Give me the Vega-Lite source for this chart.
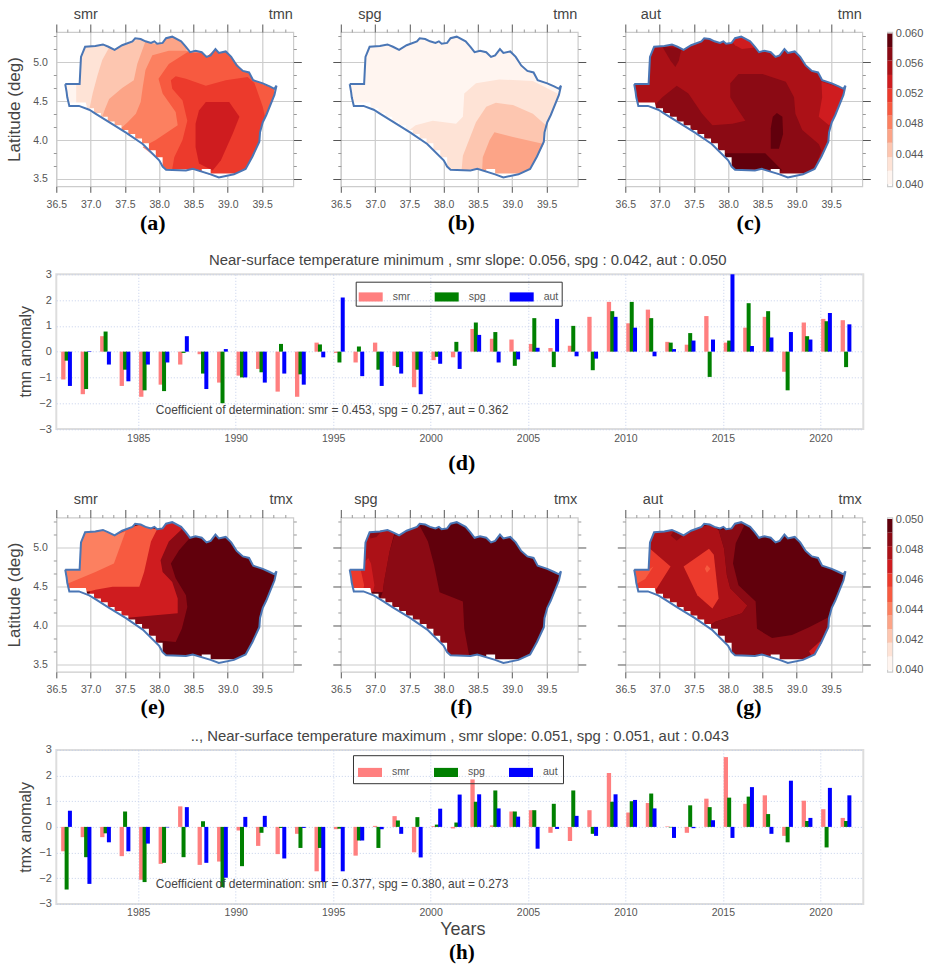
{"$schema":"https://vega.github.io/schema/vega-lite/v6.json","padding":{"left":4.3,"top":5,"right":0,"bottom":0},"background":"white",
"config":{"view":{"stroke":"#ccc","strokeWidth":1.2},"font":"Liberation Sans","range":{"ordinal":["#fff5f0","#fee3d6","#fdc6b0","#fca487","#fc8060","#f75a40","#ec3a2c","#cf1c1f","#ac1117","#8b0a14","#61000c"]},"axis":{"labelFlush":false,"labelFont":"Liberation Sans","titleFont":"Liberation Sans","labelColor":"#555","titleColor":"#444","titleFontWeight":"normal","gridColor":"#ccc","gridWidth":1.2,"domain":false,"tickColor":"#555","labelFontSize":10.5}},
"datasets":{
"dummy":[{"x":38,"y":4.5}],
"bnd":[{"x":36.63,"y":4.72},{"x":36.84,"y":4.72},{"x":36.85,"y":4.9},{"x":36.86,"y":5.07},{"x":36.92,"y":5.2},{"x":37.07,"y":5.21},{"x":37.18,"y":5.23},{"x":37.26,"y":5.2},{"x":37.35,"y":5.16},{"x":37.46,"y":5.22},{"x":37.61,"y":5.27},{"x":37.65,"y":5.31},{"x":37.73,"y":5.3},{"x":37.8,"y":5.27},{"x":37.88,"y":5.25},{"x":37.93,"y":5.27},{"x":37.97,"y":5.24},{"x":38.05,"y":5.25},{"x":38.1,"y":5.31},{"x":38.19,"y":5.33},{"x":38.32,"y":5.27},{"x":38.39,"y":5.2},{"x":38.45,"y":5.13},{"x":38.53,"y":5.15},{"x":38.62,"y":5.13},{"x":38.69,"y":5.07},{"x":38.75,"y":5.09},{"x":38.82,"y":5.17},{"x":38.87,"y":5.12},{"x":38.97,"y":5.14},{"x":39.05,"y":5.07},{"x":39.13,"y":4.96},{"x":39.22,"y":4.89},{"x":39.31,"y":4.87},{"x":39.37,"y":4.77},{"x":39.51,"y":4.73},{"x":39.61,"y":4.69},{"x":39.68,"y":4.66},{"x":39.71,"y":4.7},{"x":39.68,"y":4.58},{"x":39.56,"y":4.32},{"x":39.51,"y":4.23},{"x":39.47,"y":4.1},{"x":39.46,"y":3.98},{"x":39.36,"y":3.79},{"x":39.26,"y":3.63},{"x":39.09,"y":3.56},{"x":38.87,"y":3.52},{"x":38.75,"y":3.56},{"x":38.49,"y":3.63},{"x":38.39,"y":3.61},{"x":38.1,"y":3.62},{"x":38.05,"y":3.66},{"x":38,"y":3.74},{"x":37.76,"y":3.95},{"x":37.51,"y":4.1},{"x":37.27,"y":4.23},{"x":37.07,"y":4.34},{"x":36.98,"y":4.39},{"x":36.83,"y":4.44},{"x":36.69,"y":4.44},{"x":36.66,"y":4.55},{"x":36.65,"y":4.62},{"x":36.63,"y":4.72}],
"mask":[{"r":1,"x":36.69,"y":4.485},{"r":1,"x":36.93,"y":4.485},{"r":1,"x":36.95,"y":4.41},{"r":1,"x":37.05,"y":4.41},{"r":1,"x":37.05,"y":4.35},{"r":1,"x":37.15,"y":4.35},{"r":1,"x":37.15,"y":4.3},{"r":1,"x":37.25,"y":4.3},{"r":1,"x":37.25,"y":4.24},{"r":1,"x":37.35,"y":4.24},{"r":1,"x":37.35,"y":4.19},{"r":1,"x":37.45,"y":4.19},{"r":1,"x":37.45,"y":4.13},{"r":1,"x":37.55,"y":4.13},{"r":1,"x":37.55,"y":4.08},{"r":1,"x":37.65,"y":4.08},{"r":1,"x":37.65,"y":4.02},{"r":1,"x":37.75,"y":4.02},{"r":1,"x":37.75,"y":3.96},{"r":1,"x":37.85,"y":3.96},{"r":1,"x":37.85,"y":3.87},{"r":1,"x":37.95,"y":3.87},{"r":1,"x":37.95,"y":3.78},{"r":1,"x":38.05,"y":3.78},{"r":1,"x":38.05,"y":3.66},{"r":1,"x":38.08,"y":3.63},{"r":1,"x":38.05,"y":3.63},{"r":1,"x":38,"y":3.72},{"r":1,"x":37.76,"y":3.93},{"r":1,"x":37.51,"y":4.08},{"r":1,"x":37.27,"y":4.21},{"r":1,"x":36.98,"y":4.37},{"r":1,"x":36.83,"y":4.43},{"r":1,"x":36.69,"y":4.43},{"r":2,"x":38.62,"y":3.63},{"r":2,"x":38.75,"y":3.63},{"r":2,"x":38.75,"y":3.57},{"r":2,"x":39.09,"y":3.57},{"r":2,"x":39.09,"y":3.55},{"r":2,"x":38.87,"y":3.51},{"r":2,"x":38.75,"y":3.55},{"r":2,"x":38.62,"y":3.59}],
"ca":[{"r":1,"l":0,"x":36.63,"y":4.72},{"r":1,"l":0,"x":36.79,"y":4.72},{"r":1,"l":0,"x":36.79,"y":4.47},{"r":1,"l":0,"x":36.83,"y":4.44},{"r":1,"l":0,"x":36.69,"y":4.44},{"r":1,"l":0,"x":36.66,"y":4.55},{"r":1,"l":0,"x":36.65,"y":4.62},
{"r":2,"l":2,"x":37.27,"y":5.19},{"r":2,"l":2,"x":37.17,"y":5.03},{"r":2,"l":2,"x":37.1,"y":4.83},{"r":2,"l":2,"x":37.03,"y":4.6},{"r":2,"l":2,"x":36.98,"y":4.39},{"r":2,"l":2,"x":37.07,"y":4.34},{"r":2,"l":2,"x":37.51,"y":4.1},{"r":2,"l":2,"x":37.76,"y":3.95},{"r":2,"l":2,"x":37.88,"y":5.25},{"r":2,"l":2,"x":37.73,"y":5.3},{"r":2,"l":2,"x":37.61,"y":5.27},{"r":2,"l":2,"x":37.35,"y":5.16},
{"r":3,"l":3,"x":37.8,"y":5.27},{"r":3,"l":3,"x":37.68,"y":4.98},{"r":3,"l":3,"x":37.63,"y":4.77},{"r":3,"l":3,"x":37.46,"y":4.67},{"r":3,"l":3,"x":37.27,"y":4.53},{"r":3,"l":3,"x":37.21,"y":4.4},{"r":3,"l":3,"x":37.17,"y":4.3},{"r":3,"l":3,"x":37.51,"y":4.1},{"r":3,"l":3,"x":37.76,"y":3.95},{"r":3,"l":3,"x":38,"y":3.74},{"r":3,"l":3,"x":38.4,"y":3.9},{"r":3,"l":3,"x":38.4,"y":5.19},{"r":3,"l":3,"x":38.32,"y":5.27},{"r":3,"l":3,"x":38.19,"y":5.33},{"r":3,"l":3,"x":38.1,"y":5.31},{"r":3,"l":3,"x":38.05,"y":5.25},{"r":3,"l":3,"x":37.97,"y":5.24},{"r":3,"l":3,"x":37.88,"y":5.25},
{"r":4,"l":4,"x":38.41,"y":5.15},{"r":4,"l":4,"x":38.14,"y":5.15},{"r":4,"l":4,"x":37.9,"y":5.09},{"r":4,"l":4,"x":37.8,"y":4.9},{"r":4,"l":4,"x":37.76,"y":4.68},{"r":4,"l":4,"x":37.73,"y":4.49},{"r":4,"l":4,"x":37.66,"y":4.34},{"r":4,"l":4,"x":37.54,"y":4.23},{"r":4,"l":4,"x":37.44,"y":4.15},{"r":4,"l":4,"x":37.76,"y":3.95},{"r":4,"l":4,"x":37.85,"y":3.87},{"r":4,"l":4,"x":38.4,"y":3.9},{"r":4,"l":4,"x":38.4,"y":5.0},{"r":4,"l":4,"x":38.45,"y":5.13},
{"r":5,"l":5,"x":38.41,"y":5.13},{"r":5,"l":5,"x":38.14,"y":4.98},{"r":5,"l":5,"x":37.99,"y":4.79},{"r":5,"l":5,"x":38.05,"y":4.6},{"r":5,"l":5,"x":38.24,"y":4.36},{"r":5,"l":5,"x":38.27,"y":4.19},{"r":5,"l":5,"x":37.95,"y":4.0},{"r":5,"l":5,"x":37.76,"y":3.91},{"r":5,"l":5,"x":38,"y":3.74},{"r":5,"l":5,"x":38.1,"y":3.62},{"r":5,"l":5,"x":38.49,"y":3.63},{"r":5,"l":5,"x":38.87,"y":3.52},{"r":5,"l":5,"x":39.09,"y":3.56},{"r":5,"l":5,"x":39.26,"y":3.63},{"r":5,"l":5,"x":39.46,"y":3.98},{"r":5,"l":5,"x":39.47,"y":4.1},{"r":5,"l":5,"x":39.51,"y":4.23},{"r":5,"l":5,"x":39.68,"y":4.58},{"r":5,"l":5,"x":39.68,"y":4.66},{"r":5,"l":5,"x":39.37,"y":4.77},{"r":5,"l":5,"x":39.31,"y":4.87},{"r":5,"l":5,"x":39.22,"y":4.89},{"r":5,"l":5,"x":39.05,"y":5.07},{"r":5,"l":5,"x":38.97,"y":5.14},{"r":5,"l":5,"x":38.87,"y":5.12},{"r":5,"l":5,"x":38.82,"y":5.17},{"r":5,"l":5,"x":38.69,"y":5.07},{"r":5,"l":5,"x":38.62,"y":5.13},
{"r":6,"l":6,"x":38.17,"y":4.77},{"r":6,"l":6,"x":38.24,"y":4.82},{"r":6,"l":6,"x":38.39,"y":4.79},{"r":6,"l":6,"x":38.68,"y":4.7},{"r":6,"l":6,"x":38.97,"y":4.77},{"r":6,"l":6,"x":39.29,"y":4.81},{"r":6,"l":6,"x":39.39,"y":4.73},{"r":6,"l":6,"x":39.51,"y":4.43},{"r":6,"l":6,"x":39.54,"y":4.31},{"r":6,"l":6,"x":39.51,"y":4.23},{"r":6,"l":6,"x":39.47,"y":4.1},{"r":6,"l":6,"x":39.46,"y":3.98},{"r":6,"l":6,"x":39.26,"y":3.63},{"r":6,"l":6,"x":39.09,"y":3.56},{"r":6,"l":6,"x":38.87,"y":3.52},{"r":6,"l":6,"x":38.49,"y":3.63},{"r":6,"l":6,"x":38.19,"y":3.63},{"r":6,"l":6,"x":38.22,"y":3.78},{"r":6,"l":6,"x":38.34,"y":4.0},{"r":6,"l":6,"x":38.41,"y":4.25},{"r":6,"l":6,"x":38.34,"y":4.51},{"r":6,"l":6,"x":38.19,"y":4.66},
{"r":7,"l":7,"x":38.68,"y":4.49},{"r":7,"l":7,"x":39.02,"y":4.49},{"r":7,"l":7,"x":39.17,"y":4.3},{"r":7,"l":7,"x":39.07,"y":4.08},{"r":7,"l":7,"x":38.9,"y":3.74},{"r":7,"l":7,"x":38.78,"y":3.61},{"r":7,"l":7,"x":38.58,"y":3.7},{"r":7,"l":7,"x":38.53,"y":3.91},{"r":7,"l":7,"x":38.53,"y":4.21},{"r":7,"l":7,"x":38.58,"y":4.38}],
"cb":[{"r":1,"l":1,"x":39.66,"y":4.6},{"r":1,"l":1,"x":39.3,"y":4.76},{"r":1,"l":1,"x":38.81,"y":4.78},{"r":1,"l":1,"x":38.47,"y":4.73},{"r":1,"l":1,"x":38.3,"y":4.6},{"r":1,"l":1,"x":38.28,"y":4.3},{"r":1,"l":1,"x":38.18,"y":4.21},{"r":1,"l":1,"x":37.84,"y":4.25},{"r":1,"l":1,"x":37.59,"y":4.19},{"r":1,"l":1,"x":37.5,"y":4.13},{"r":1,"l":1,"x":37.76,"y":3.95},{"r":1,"l":1,"x":38,"y":3.74},{"r":1,"l":1,"x":38.1,"y":3.62},{"r":1,"l":1,"x":38.49,"y":3.63},{"r":1,"l":1,"x":38.87,"y":3.52},{"r":1,"l":1,"x":39.09,"y":3.56},{"r":1,"l":1,"x":39.26,"y":3.63},{"r":1,"l":1,"x":39.46,"y":3.98},{"r":1,"l":1,"x":39.47,"y":4.1},{"r":1,"l":1,"x":39.51,"y":4.23},{"r":1,"l":1,"x":39.68,"y":4.58},
{"r":2,"l":2,"x":39.49,"y":4.19},{"r":2,"l":2,"x":39.3,"y":4.34},{"r":2,"l":2,"x":39.01,"y":4.45},{"r":2,"l":2,"x":38.76,"y":4.48},{"r":2,"l":2,"x":38.62,"y":4.43},{"r":2,"l":2,"x":38.47,"y":4.23},{"r":2,"l":2,"x":38.28,"y":3.8},{"r":2,"l":2,"x":38.26,"y":3.61},{"r":2,"l":2,"x":38.49,"y":3.63},{"r":2,"l":2,"x":38.87,"y":3.52},{"r":2,"l":2,"x":39.09,"y":3.56},{"r":2,"l":2,"x":39.26,"y":3.63},{"r":2,"l":2,"x":39.46,"y":3.98},{"r":2,"l":2,"x":39.47,"y":4.1},
{"r":3,"l":3,"x":38.74,"y":4.1},{"r":3,"l":3,"x":39.01,"y":4.04},{"r":3,"l":3,"x":39.46,"y":3.95},{"r":3,"l":3,"x":39.26,"y":3.63},{"r":3,"l":3,"x":39.09,"y":3.56},{"r":3,"l":3,"x":38.87,"y":3.52},{"r":3,"l":3,"x":38.56,"y":3.61},{"r":3,"l":3,"x":38.57,"y":3.78},{"r":3,"l":3,"x":38.67,"y":4.0}],
"cc":[{"r":1,"l":9,"x":37.04,"y":5.2},{"r":1,"l":9,"x":37.32,"y":5.18},{"r":1,"l":9,"x":37.28,"y":5.02},{"r":1,"l":9,"x":37.23,"y":4.94},{"r":1,"l":9,"x":37.16,"y":5.02},
{"r":2,"l":9,"x":36.91,"y":4.43},{"r":2,"l":9,"x":37.04,"y":4.55},{"r":2,"l":9,"x":37.25,"y":4.7},{"r":2,"l":9,"x":37.42,"y":4.6},{"r":2,"l":9,"x":37.62,"y":4.34},{"r":2,"l":9,"x":37.77,"y":4.19},{"r":2,"l":9,"x":38.06,"y":4.21},{"r":2,"l":9,"x":38.25,"y":4.25},{"r":2,"l":9,"x":38.15,"y":4.38},{"r":2,"l":9,"x":38.03,"y":4.55},{"r":2,"l":9,"x":38.03,"y":4.73},{"r":2,"l":9,"x":38.15,"y":4.85},{"r":2,"l":9,"x":38.5,"y":4.85},{"r":2,"l":9,"x":38.84,"y":4.75},{"r":2,"l":9,"x":38.96,"y":4.55},{"r":2,"l":9,"x":38.98,"y":4.34},{"r":2,"l":9,"x":39.08,"y":4.13},{"r":2,"l":9,"x":39.32,"y":3.95},{"r":2,"l":9,"x":39.36,"y":3.87},{"r":2,"l":9,"x":39.26,"y":3.63},{"r":2,"l":9,"x":39.09,"y":3.56},{"r":2,"l":9,"x":38.87,"y":3.52},{"r":2,"l":9,"x":38.49,"y":3.63},{"r":2,"l":9,"x":38.1,"y":3.62},{"r":2,"l":9,"x":38,"y":3.74},{"r":2,"l":9,"x":37.76,"y":3.95},{"r":2,"l":9,"x":37.51,"y":4.1},{"r":2,"l":9,"x":37.07,"y":4.34},
{"r":3,"l":7,"x":39.36,"y":4.75},{"r":3,"l":7,"x":39.37,"y":4.55},{"r":3,"l":7,"x":39.32,"y":4.3},{"r":3,"l":7,"x":39.47,"y":4.19},{"r":3,"l":7,"x":39.51,"y":4.23},{"r":3,"l":7,"x":39.68,"y":4.58},{"r":3,"l":7,"x":39.68,"y":4.66},
{"r":4,"l":7,"x":38.06,"y":5.26},{"r":4,"l":7,"x":38.1,"y":5.31},{"r":4,"l":7,"x":38.19,"y":5.33},{"r":4,"l":7,"x":38.32,"y":5.27},{"r":4,"l":7,"x":38.39,"y":5.19},{"r":4,"l":7,"x":38.2,"y":5.17},{"r":4,"l":7,"x":38.1,"y":5.22},
{"r":5,"l":10,"x":38.71,"y":4.35},{"r":5,"l":10,"x":38.79,"y":4.3},{"r":5,"l":10,"x":38.8,"y":4.08},{"r":5,"l":10,"x":38.74,"y":3.89},{"r":5,"l":10,"x":38.62,"y":3.89},{"r":5,"l":10,"x":38.62,"y":4.15},{"r":5,"l":10,"x":38.65,"y":4.3},
{"r":6,"l":10,"x":37.91,"y":3.83},{"r":6,"l":10,"x":38.54,"y":3.83},{"r":6,"l":10,"x":38.79,"y":3.61},{"r":6,"l":10,"x":38.49,"y":3.63},{"r":6,"l":10,"x":38.1,"y":3.62},{"r":6,"l":10,"x":38,"y":3.74}],
"ce":[{"r":1,"l":9,"x":38.45,"y":5.13},{"r":1,"l":9,"x":38.29,"y":4.97},{"r":1,"l":9,"x":38.17,"y":4.8},{"r":1,"l":9,"x":38.24,"y":4.61},{"r":1,"l":9,"x":38.39,"y":4.39},{"r":1,"l":9,"x":38.41,"y":4.24},{"r":1,"l":9,"x":38.33,"y":3.96},{"r":1,"l":9,"x":38.24,"y":3.79},{"r":1,"l":9,"x":38,"y":3.81},{"r":1,"l":9,"x":38,"y":3.74},{"r":1,"l":9,"x":37.76,"y":3.95},{"r":1,"l":9,"x":37.55,"y":4.08},{"r":1,"l":9,"x":37.6,"y":4.2},{"r":1,"l":9,"x":38.2,"y":4.3},{"r":1,"l":9,"x":37.95,"y":4.8},{"r":1,"l":9,"x":38.19,"y":5.33},{"r":1,"l":9,"x":38.32,"y":5.27},{"r":1,"l":9,"x":38.39,"y":5.2},
{"r":2,"l":7,"x":38.34,"y":5.25},{"r":2,"l":7,"x":38.14,"y":5.08},{"r":2,"l":7,"x":38.02,"y":4.84},{"r":2,"l":7,"x":38.05,"y":4.69},{"r":2,"l":7,"x":38.19,"y":4.56},{"r":2,"l":7,"x":38.27,"y":4.35},{"r":2,"l":7,"x":38.27,"y":4.16},{"r":2,"l":7,"x":37.66,"y":4.11},{"r":2,"l":7,"x":37.51,"y":4.1},{"r":2,"l":7,"x":37.27,"y":4.23},{"r":2,"l":7,"x":37.07,"y":4.35},{"r":2,"l":7,"x":36.98,"y":4.4},{"r":2,"l":7,"x":37.0,"y":4.46},{"r":2,"l":7,"x":37.3,"y":4.52},{"r":2,"l":7,"x":37.78,"y":4.8},{"r":2,"l":7,"x":37.8,"y":5.27},{"r":2,"l":7,"x":37.97,"y":5.24},{"r":2,"l":7,"x":38.05,"y":5.25},{"r":2,"l":7,"x":38.1,"y":5.31},{"r":2,"l":7,"x":38.19,"y":5.33},
{"r":3,"l":5,"x":37.97,"y":5.24},{"r":3,"l":5,"x":37.88,"y":5.08},{"r":3,"l":5,"x":37.78,"y":4.69},{"r":3,"l":5,"x":37.71,"y":4.5},{"r":3,"l":5,"x":37.32,"y":4.5},{"r":3,"l":5,"x":37.07,"y":4.46},{"r":3,"l":5,"x":36.98,"y":4.44},{"r":3,"l":5,"x":36.69,"y":4.44},{"r":3,"l":5,"x":36.66,"y":4.55},{"r":3,"l":5,"x":36.65,"y":4.62},{"r":3,"l":5,"x":36.63,"y":4.72},{"r":3,"l":5,"x":36.84,"y":4.72},{"r":3,"l":5,"x":36.85,"y":4.9},{"r":3,"l":5,"x":36.86,"y":5.07},{"r":3,"l":5,"x":36.92,"y":5.2},{"r":3,"l":5,"x":37.18,"y":5.23},{"r":3,"l":5,"x":37.35,"y":5.16},{"r":3,"l":5,"x":37.61,"y":5.27},{"r":3,"l":5,"x":37.73,"y":5.3},{"r":3,"l":5,"x":37.88,"y":5.25},
{"r":4,"l":4,"x":37.51,"y":5.21},{"r":4,"l":4,"x":37.34,"y":4.8},{"r":4,"l":4,"x":37.07,"y":4.69},{"r":4,"l":4,"x":36.66,"y":4.54},{"r":4,"l":4,"x":36.65,"y":4.62},{"r":4,"l":4,"x":36.63,"y":4.72},{"r":4,"l":4,"x":36.84,"y":4.72},{"r":4,"l":4,"x":36.85,"y":4.9},{"r":4,"l":4,"x":36.86,"y":5.07},{"r":4,"l":4,"x":36.92,"y":5.2},{"r":4,"l":4,"x":37.18,"y":5.23},{"r":4,"l":4,"x":37.35,"y":5.16}],
"cf":[{"r":1,"l":9,"x":37.64,"y":5.3},{"r":1,"l":9,"x":37.77,"y":5.08},{"r":1,"l":9,"x":37.86,"y":4.78},{"r":1,"l":9,"x":37.94,"y":4.43},{"r":1,"l":9,"x":38.28,"y":4.31},{"r":1,"l":9,"x":38.3,"y":3.96},{"r":1,"l":9,"x":38.37,"y":3.62},{"r":1,"l":9,"x":38.1,"y":3.62},{"r":1,"l":9,"x":38,"y":3.74},{"r":1,"l":9,"x":37.76,"y":3.95},{"r":1,"l":9,"x":37.51,"y":4.1},{"r":1,"l":9,"x":37.27,"y":4.23},{"r":1,"l":9,"x":37.07,"y":4.34},{"r":1,"l":9,"x":37.11,"y":4.43},{"r":1,"l":9,"x":37.13,"y":4.56},{"r":1,"l":9,"x":37.21,"y":4.95},{"r":1,"l":9,"x":37.28,"y":5.16},{"r":1,"l":9,"x":37.35,"y":5.16},{"r":1,"l":9,"x":37.61,"y":5.27},
{"r":2,"l":8,"x":37.28,"y":5.18},{"r":2,"l":8,"x":37.21,"y":4.95},{"r":2,"l":8,"x":37.13,"y":4.56},{"r":2,"l":8,"x":37.11,"y":4.43},{"r":2,"l":8,"x":36.83,"y":4.44},{"r":2,"l":8,"x":36.69,"y":4.44},{"r":2,"l":8,"x":36.66,"y":4.55},{"r":2,"l":8,"x":36.65,"y":4.62},{"r":2,"l":8,"x":36.63,"y":4.72},{"r":2,"l":8,"x":36.84,"y":4.72},{"r":2,"l":8,"x":36.85,"y":4.9},{"r":2,"l":8,"x":36.86,"y":5.07},{"r":2,"l":8,"x":36.92,"y":5.2},{"r":2,"l":8,"x":37.18,"y":5.23},
{"r":3,"l":7,"x":36.94,"y":4.8},{"r":3,"l":7,"x":36.99,"y":4.52},{"r":3,"l":7,"x":36.97,"y":4.44},{"r":3,"l":7,"x":36.69,"y":4.44},{"r":3,"l":7,"x":36.66,"y":4.55},{"r":3,"l":7,"x":36.65,"y":4.62},{"r":3,"l":7,"x":36.63,"y":4.72},{"r":3,"l":7,"x":36.84,"y":4.72},{"r":3,"l":7,"x":36.85,"y":4.82},{"r":3,"l":7,"x":36.9,"y":4.87},
{"r":4,"l":6,"x":36.79,"y":4.72},{"r":4,"l":6,"x":36.84,"y":4.52},{"r":4,"l":6,"x":36.82,"y":4.44},{"r":4,"l":6,"x":36.69,"y":4.44},{"r":4,"l":6,"x":36.66,"y":4.55},{"r":4,"l":6,"x":36.65,"y":4.62},{"r":4,"l":6,"x":36.63,"y":4.72},
{"r":5,"l":9,"x":36.92,"y":5.2},{"r":5,"l":9,"x":37.1,"y":5.22},{"r":5,"l":9,"x":37.02,"y":5.14},{"r":5,"l":9,"x":36.93,"y":5.12}],
"cg":[{"r":1,"l":9,"x":38.23,"y":5.28},{"r":1,"l":9,"x":38.11,"y":5.06},{"r":1,"l":9,"x":38.07,"y":4.8},{"r":1,"l":9,"x":38.15,"y":4.52},{"r":1,"l":9,"x":38.4,"y":4.31},{"r":1,"l":9,"x":38.42,"y":3.96},{"r":1,"l":9,"x":38.64,"y":3.84},{"r":1,"l":9,"x":38.93,"y":3.88},{"r":1,"l":9,"x":39.18,"y":3.98},{"r":1,"l":9,"x":39.47,"y":4.11},{"r":1,"l":9,"x":39.46,"y":3.98},{"r":1,"l":9,"x":39.26,"y":3.63},{"r":1,"l":9,"x":39.09,"y":3.56},{"r":1,"l":9,"x":38.87,"y":3.52},{"r":1,"l":9,"x":38.49,"y":3.63},{"r":1,"l":9,"x":38.1,"y":3.62},{"r":1,"l":9,"x":38,"y":3.74},{"r":1,"l":9,"x":37.76,"y":3.95},{"r":1,"l":9,"x":37.69,"y":3.98},{"r":1,"l":9,"x":37.81,"y":4.05},{"r":1,"l":9,"x":38.2,"y":4.16},{"r":1,"l":9,"x":38.28,"y":4.26},{"r":1,"l":9,"x":38.03,"y":4.48},{"r":1,"l":9,"x":37.98,"y":4.65},{"r":1,"l":9,"x":37.94,"y":4.99},{"r":1,"l":9,"x":37.86,"y":5.23},{"r":1,"l":9,"x":37.97,"y":5.24},{"r":1,"l":9,"x":38.05,"y":5.25},{"r":1,"l":9,"x":38.1,"y":5.31},{"r":1,"l":9,"x":38.19,"y":5.33},
{"r":2,"l":8,"x":37.86,"y":5.23},{"r":2,"l":8,"x":37.94,"y":4.99},{"r":2,"l":8,"x":37.98,"y":4.65},{"r":2,"l":8,"x":38.03,"y":4.48},{"r":2,"l":8,"x":38.28,"y":4.26},{"r":2,"l":8,"x":38.2,"y":4.16},{"r":2,"l":8,"x":37.81,"y":4.05},{"r":2,"l":8,"x":37.69,"y":3.98},{"r":2,"l":8,"x":37.51,"y":4.1},{"r":2,"l":8,"x":37.27,"y":4.23},{"r":2,"l":8,"x":37.07,"y":4.34},{"r":2,"l":8,"x":36.83,"y":4.44},{"r":2,"l":8,"x":36.69,"y":4.44},{"r":2,"l":8,"x":36.66,"y":4.55},{"r":2,"l":8,"x":36.65,"y":4.62},{"r":2,"l":8,"x":36.63,"y":4.72},{"r":2,"l":8,"x":36.84,"y":4.72},{"r":2,"l":8,"x":36.85,"y":4.9},{"r":2,"l":8,"x":36.86,"y":5.07},{"r":2,"l":8,"x":36.92,"y":5.2},{"r":2,"l":8,"x":37.18,"y":5.23},{"r":2,"l":8,"x":37.35,"y":5.16},{"r":2,"l":8,"x":37.61,"y":5.27},{"r":2,"l":8,"x":37.73,"y":5.3},
{"r":3,"l":9,"x":37.16,"y":5.16},{"r":3,"l":9,"x":37.25,"y":5.09},{"r":3,"l":9,"x":37.33,"y":5.15},{"r":3,"l":9,"x":37.2,"y":5.21},
{"r":4,"l":7,"x":39.18,"y":3.67},{"r":4,"l":7,"x":39.34,"y":3.8},{"r":4,"l":7,"x":39.36,"y":3.77},{"r":4,"l":7,"x":39.26,"y":3.63},{"r":4,"l":7,"x":39.21,"y":3.62},
{"r":5,"l":6,"x":37.35,"y":4.76},{"r":5,"l":6,"x":37.72,"y":4.99},{"r":5,"l":6,"x":37.79,"y":4.91},{"r":5,"l":6,"x":37.86,"y":4.35},{"r":5,"l":6,"x":37.77,"y":4.22},{"r":5,"l":6,"x":37.55,"y":4.39},
{"r":6,"l":5,"x":37.69,"y":4.78},{"r":6,"l":5,"x":37.74,"y":4.73},{"r":6,"l":5,"x":37.69,"y":4.68},{"r":6,"l":5,"x":37.66,"y":4.73},
{"r":7,"l":6,"x":36.86,"y":4.99},{"r":7,"l":6,"x":37.16,"y":4.76},{"r":7,"l":6,"x":36.96,"y":4.48},{"r":7,"l":6,"x":36.91,"y":4.44},{"r":7,"l":6,"x":36.69,"y":4.44},{"r":7,"l":6,"x":36.66,"y":4.55},{"r":7,"l":6,"x":36.65,"y":4.62},{"r":7,"l":6,"x":36.63,"y":4.72},{"r":7,"l":6,"x":36.84,"y":4.72},{"r":7,"l":6,"x":36.85,"y":4.9},
{"r":8,"l":5,"x":36.63,"y":4.72},{"r":8,"l":5,"x":36.84,"y":4.72},{"r":8,"l":5,"x":36.91,"y":4.76},{"r":8,"l":5,"x":36.79,"y":4.6},{"r":8,"l":5,"x":36.67,"y":4.54},{"r":8,"l":5,"x":36.65,"y":4.62}],
"cbar6":[{"lo":0.04,"hi":0.0418,"l":0},{"lo":0.0418,"hi":0.0436,"l":1},{"lo":0.0436,"hi":0.0455,"l":2},{"lo":0.0455,"hi":0.0473,"l":3},{"lo":0.0473,"hi":0.0491,"l":4},{"lo":0.0491,"hi":0.0509,"l":5},{"lo":0.0509,"hi":0.0527,"l":6},{"lo":0.0527,"hi":0.0545,"l":7},{"lo":0.0545,"hi":0.0564,"l":8},{"lo":0.0564,"hi":0.0582,"l":9},{"lo":0.0582,"hi":0.06,"l":10}],
"cbar5":[{"lo":0.04,"hi":0.0409,"l":0},{"lo":0.0409,"hi":0.0418,"l":1},{"lo":0.0418,"hi":0.0427,"l":2},{"lo":0.0427,"hi":0.0436,"l":3},{"lo":0.0436,"hi":0.0445,"l":4},{"lo":0.0445,"hi":0.0455,"l":5},{"lo":0.0455,"hi":0.0464,"l":6},{"lo":0.0464,"hi":0.0473,"l":7},{"lo":0.0473,"hi":0.0482,"l":8},{"lo":0.0482,"hi":0.0491,"l":9},{"lo":0.0491,"hi":0.05,"l":10}],
"note1":[{"year":1985.9,"v":-2.25,"t":"Coefficient of determination: smr = 0.453,  spg = 0.257,  aut = 0.362"}],
"note2":[{"year":1985.9,"v":-2.24,"t":"Coefficient of determination: smr = 0.377,  spg = 0.380,  aut = 0.273"}],
"tmn":[{"year":1981,"s":"smr","v":-1.08},{"year":1981,"s":"spg","v":-0.35},{"year":1981,"s":"aut","v":-1.33},{"year":1982,"s":"smr","v":-1.65},{"year":1982,"s":"spg","v":-1.45},{"year":1982,"s":"aut","v":0.02},{"year":1983,"s":"smr","v":0.6},{"year":1983,"s":"spg","v":0.78},{"year":1983,"s":"aut","v":-0.5},{"year":1984,"s":"smr","v":-1.33},{"year":1984,"s":"spg","v":-0.7},{"year":1984,"s":"aut","v":-1.15},{"year":1985,"s":"smr","v":-1.75},{"year":1985,"s":"spg","v":-1.5},{"year":1985,"s":"aut","v":-0.5},{"year":1986,"s":"smr","v":-1.28},{"year":1986,"s":"spg","v":-1.53},{"year":1986,"s":"aut","v":-0.42},{"year":1987,"s":"smr","v":-0.5},{"year":1987,"s":"spg","v":-0.05},{"year":1987,"s":"aut","v":0.6},{"year":1988,"s":"smr","v":-0.1},{"year":1988,"s":"spg","v":-0.85},{"year":1988,"s":"aut","v":-1.45},{"year":1989,"s":"smr","v":-1.2},{"year":1989,"s":"spg","v":-2.0},{"year":1989,"s":"aut","v":0.1},{"year":1990,"s":"smr","v":-0.93},{"year":1990,"s":"spg","v":-1.0},{"year":1990,"s":"aut","v":-1.0},{"year":1991,"s":"smr","v":-0.67},{"year":1991,"s":"spg","v":-0.8},{"year":1991,"s":"aut","v":-1.2},{"year":1992,"s":"smr","v":-1.55},{"year":1992,"s":"spg","v":0.3},{"year":1992,"s":"aut","v":-0.85},{"year":1993,"s":"smr","v":-1.75},{"year":1993,"s":"spg","v":-0.88},{"year":1993,"s":"aut","v":-1.28},{"year":1994,"s":"smr","v":0.35},{"year":1994,"s":"spg","v":0.28},{"year":1994,"s":"aut","v":-0.22},{"year":1995,"s":"smr","v":-0.05},{"year":1995,"s":"spg","v":-0.42},{"year":1995,"s":"aut","v":2.1},{"year":1996,"s":"smr","v":-0.42},{"year":1996,"s":"spg","v":0.2},{"year":1996,"s":"aut","v":-0.95},{"year":1997,"s":"smr","v":0.35},{"year":1997,"s":"spg","v":-0.7},{"year":1997,"s":"aut","v":-1.33},{"year":1998,"s":"smr","v":-0.55},{"year":1998,"s":"spg","v":-0.6},{"year":1998,"s":"aut","v":-0.85},{"year":1999,"s":"smr","v":-1.38},{"year":1999,"s":"spg","v":-0.7},{"year":1999,"s":"aut","v":-1.65},{"year":2000,"s":"smr","v":-0.33},{"year":2000,"s":"spg","v":-0.2},{"year":2000,"s":"aut","v":-0.47},{"year":2001,"s":"smr","v":-0.22},{"year":2001,"s":"spg","v":0.38},{"year":2001,"s":"aut","v":-0.67},{"year":2002,"s":"smr","v":0.88},{"year":2002,"s":"spg","v":1.13},{"year":2002,"s":"aut","v":0.65},{"year":2003,"s":"smr","v":0.5},{"year":2003,"s":"spg","v":0.76},{"year":2003,"s":"aut","v":-0.42},{"year":2004,"s":"smr","v":0.47},{"year":2004,"s":"spg","v":-0.55},{"year":2004,"s":"aut","v":-0.3},{"year":2005,"s":"smr","v":0.3},{"year":2005,"s":"spg","v":1.3},{"year":2005,"s":"aut","v":0.15},{"year":2006,"s":"smr","v":0.14},{"year":2006,"s":"spg","v":-0.6},{"year":2006,"s":"aut","v":1.27},{"year":2007,"s":"smr","v":0.23},{"year":2007,"s":"spg","v":1.0},{"year":2007,"s":"aut","v":-0.18},{"year":2008,"s":"smr","v":1.35},{"year":2008,"s":"spg","v":-0.72},{"year":2008,"s":"aut","v":-0.27},{"year":2009,"s":"smr","v":1.93},{"year":2009,"s":"spg","v":1.57},{"year":2009,"s":"aut","v":1.35},{"year":2010,"s":"smr","v":1.1},{"year":2010,"s":"spg","v":1.93},{"year":2010,"s":"aut","v":0.93},{"year":2011,"s":"smr","v":1.63},{"year":2011,"s":"spg","v":1.3},{"year":2011,"s":"aut","v":-0.18},{"year":2012,"s":"smr","v":0.38},{"year":2012,"s":"spg","v":0.35},{"year":2012,"s":"aut","v":0.1},{"year":2013,"s":"smr","v":0.27},{"year":2013,"s":"spg","v":0.72},{"year":2013,"s":"aut","v":0.43},{"year":2014,"s":"smr","v":1.38},{"year":2014,"s":"spg","v":-0.98},{"year":2014,"s":"aut","v":0.47},{"year":2015,"s":"smr","v":0.35},{"year":2015,"s":"spg","v":0.43},{"year":2015,"s":"aut","v":3.0},{"year":2016,"s":"smr","v":0.93},{"year":2016,"s":"spg","v":1.88},{"year":2016,"s":"aut","v":0.22},{"year":2017,"s":"smr","v":1.35},{"year":2017,"s":"spg","v":1.57},{"year":2017,"s":"aut","v":0.55},{"year":2018,"s":"smr","v":-0.78},{"year":2018,"s":"spg","v":-1.5},{"year":2018,"s":"aut","v":0.76},{"year":2019,"s":"smr","v":1.13},{"year":2019,"s":"spg","v":0.6},{"year":2019,"s":"aut","v":0.47},{"year":2020,"s":"smr","v":1.27},{"year":2020,"s":"spg","v":1.18},{"year":2020,"s":"aut","v":1.5},{"year":2021,"s":"smr","v":1.22},{"year":2021,"s":"spg","v":-0.6},{"year":2021,"s":"aut","v":1.06}],
"tmx":[{"year":1981,"s":"smr","v":-0.95},{"year":1981,"s":"spg","v":-2.44},{"year":1981,"s":"aut","v":0.63},{"year":1982,"s":"smr","v":-0.4},{"year":1982,"s":"spg","v":-1.18},{"year":1982,"s":"aut","v":-2.22},{"year":1983,"s":"smr","v":-0.4},{"year":1983,"s":"spg","v":-0.25},{"year":1983,"s":"aut","v":-0.6},{"year":1984,"s":"smr","v":-1.14},{"year":1984,"s":"spg","v":0.6},{"year":1984,"s":"aut","v":-0.95},{"year":1985,"s":"smr","v":-2.06},{"year":1985,"s":"spg","v":-2.15},{"year":1985,"s":"aut","v":-0.65},{"year":1986,"s":"smr","v":-1.44},{"year":1986,"s":"spg","v":-1.4},{"year":1986,"s":"aut","v":-0.02},{"year":1987,"s":"smr","v":0.8},{"year":1987,"s":"spg","v":-1.18},{"year":1987,"s":"aut","v":0.77},{"year":1988,"s":"smr","v":-1.48},{"year":1988,"s":"spg","v":0.22},{"year":1988,"s":"aut","v":-1.4},{"year":1989,"s":"smr","v":-1.35},{"year":1989,"s":"spg","v":-2.35},{"year":1989,"s":"aut","v":-1.98},{"year":1990,"s":"smr","v":-0.14},{"year":1990,"s":"spg","v":-1.53},{"year":1990,"s":"aut","v":0.39},{"year":1991,"s":"smr","v":-0.74},{"year":1991,"s":"spg","v":-0.23},{"year":1991,"s":"aut","v":0.43},{"year":1992,"s":"smr","v":-1.06},{"year":1992,"s":"spg","v":-0.04},{"year":1992,"s":"aut","v":-1.23},{"year":1993,"s":"smr","v":-0.27},{"year":1993,"s":"spg","v":-0.82},{"year":1993,"s":"aut","v":-0.04},{"year":1994,"s":"smr","v":-1.73},{"year":1994,"s":"spg","v":-0.82},{"year":1994,"s":"aut","v":-2.15},{"year":1995,"s":"smr","v":-0.09},{"year":1995,"s":"spg","v":-0.07},{"year":1995,"s":"aut","v":-1.73},{"year":1996,"s":"smr","v":-1.12},{"year":1996,"s":"spg","v":-0.53},{"year":1996,"s":"aut","v":-0.53},{"year":1997,"s":"smr","v":0.04},{"year":1997,"s":"spg","v":-0.82},{"year":1997,"s":"aut","v":-0.09},{"year":1998,"s":"smr","v":0.42},{"year":1998,"s":"spg","v":0.25},{"year":1998,"s":"aut","v":-0.27},{"year":1999,"s":"smr","v":-0.99},{"year":1999,"s":"spg","v":0.38},{"year":1999,"s":"aut","v":-1.19},{"year":2000,"s":"smr","v":0.03},{"year":2000,"s":"spg","v":0.09},{"year":2000,"s":"aut","v":0.71},{"year":2001,"s":"smr","v":-0.06},{"year":2001,"s":"spg","v":0.17},{"year":2001,"s":"aut","v":1.26},{"year":2002,"s":"smr","v":1.85},{"year":2002,"s":"spg","v":0.98},{"year":2002,"s":"aut","v":1.27},{"year":2003,"s":"smr","v":0.06},{"year":2003,"s":"spg","v":1.42},{"year":2003,"s":"aut","v":0.72},{"year":2004,"s":"smr","v":0.6},{"year":2004,"s":"spg","v":0.6},{"year":2004,"s":"aut","v":0.4},{"year":2005,"s":"smr","v":0.65},{"year":2005,"s":"spg","v":0.65},{"year":2005,"s":"aut","v":-0.85},{"year":2006,"s":"smr","v":-0.23},{"year":2006,"s":"spg","v":0.9},{"year":2006,"s":"aut","v":-0.08},{"year":2007,"s":"smr","v":-0.55},{"year":2007,"s":"spg","v":1.42},{"year":2007,"s":"aut","v":0.43},{"year":2008,"s":"smr","v":0.65},{"year":2008,"s":"spg","v":-0.27},{"year":2008,"s":"aut","v":-0.35},{"year":2009,"s":"smr","v":2.1},{"year":2009,"s":"spg","v":0.98},{"year":2009,"s":"aut","v":1.27},{"year":2010,"s":"smr","v":0.56},{"year":2010,"s":"spg","v":1.0},{"year":2010,"s":"aut","v":1.05},{"year":2011,"s":"smr","v":0.93},{"year":2011,"s":"spg","v":1.3},{"year":2011,"s":"aut","v":0.72},{"year":2012,"s":"smr","v":0.02},{"year":2012,"s":"spg","v":-0.02},{"year":2012,"s":"aut","v":-0.43},{"year":2013,"s":"smr","v":-0.23},{"year":2013,"s":"spg","v":0.84},{"year":2013,"s":"aut","v":-0.05},{"year":2014,"s":"smr","v":1.1},{"year":2014,"s":"spg","v":0.77},{"year":2014,"s":"aut","v":0.26},{"year":2015,"s":"smr","v":2.72},{"year":2015,"s":"spg","v":1.14},{"year":2015,"s":"aut","v":-0.43},{"year":2016,"s":"smr","v":0.9},{"year":2016,"s":"spg","v":1.18},{"year":2016,"s":"aut","v":1.55},{"year":2017,"s":"smr","v":1.23},{"year":2017,"s":"spg","v":0.5},{"year":2017,"s":"aut","v":-0.27},{"year":2018,"s":"smr","v":-0.35},{"year":2018,"s":"spg","v":-0.6},{"year":2018,"s":"aut","v":1.8},{"year":2019,"s":"smr","v":1.02},{"year":2019,"s":"spg","v":0.23},{"year":2019,"s":"aut","v":0.35},{"year":2020,"s":"smr","v":0.69},{"year":2020,"s":"spg","v":-0.8},{"year":2020,"s":"aut","v":1.52},{"year":2021,"s":"smr","v":0.35},{"year":2021,"s":"spg","v":0.23},{"year":2021,"s":"aut","v":1.23}]
},
"spacing":8.9,"resolve":{"scale":{"color":"independent"},"legend":{"color":"independent"}},
"vconcat":[
{"spacing":16.5,"resolve":{"scale":{"color":"independent"},"legend":{"color":"independent"}},"vconcat":[
{"spacing":18.3,"resolve":{"scale":{"color":"independent"},"legend":{"color":"independent"}},"vconcat":[
{"spacing":14,"hconcat":[
{"bounds":"flush","spacing":47.5,"hconcat":[
{"width":237,"height":154.3,"resolve":{"axis":{"x":"independent","y":"independent"}},"layer":[
{"data":{"name":"dummy"},"mark":{"type":"point","opacity":0},"encoding":{"x":{"field":"x","type":"quantitative","scale":{"domain":[36.5,39.955],"nice":false,"zero":false},"axis":{"orient":"bottom","values":[36.5,37,37.5,38,38.5,39,39.5],"format":".1f","grid":true,"tickSize":6,"title":"(a)","titleX":96,"titleY":36,"titleFont":"Liberation Serif","titleFontWeight":"bold","titleFontSize":22,"titleColor":"#000","titleBaseline":"middle","labelPadding":7}},"y":{"field":"y","type":"quantitative","scale":{"domain":[3.406,5.39],"nice":false,"zero":false},"axis":{"orient":"left","values":[3.5,4,4.5,5],"format":".1f","grid":true,"ticks":false,"labelPadding":9,"title":"Latitude (deg)","titleFontSize":17,"titleX":-42,"titleY":77,"titleBaseline":"middle"}}}},
{"data":{"name":"dummy"},"mark":{"type":"point","opacity":0},"encoding":{"x":{"field":"x","type":"quantitative","axis":{"orient":"top","values":[36.5,37,37.5,38,38.5,39,39.5],"labels":false,"grid":false,"tickSize":8,"title":"tmn","titleX":236,"titleY":-14,"titleAlign":"right","titleBaseline":"alphabetic","titleFontSize":14.5}},"y":{"field":"y","type":"quantitative","axis":{"orient":"right","values":[3.5,4,4.5,5],"labels":false,"grid":false,"tickSize":8,"title":null}}}},
{"data":{"name":"dummy"},"mark":{"type":"point","opacity":0},"encoding":{"x":{"field":"x","type":"quantitative","axis":{"orient":"top","values":[36.667,36.833,37.167,37.333,37.667,37.833,38.167,38.333,38.667,38.833,39.167,39.333,39.667,39.833],"labels":false,"grid":false,"tickSize":3,"tickColor":"#999","title":"smr","titleX":17,"titleY":-14,"titleAlign":"left","titleBaseline":"alphabetic","titleFontSize":14.5}},"y":{"field":"y","type":"quantitative","axis":{"orient":"right","values":[3.667,3.833,4.167,4.333,4.667,4.833,5.167,5.333],"labels":false,"grid":false,"tickSize":3,"tickColor":"#999","title":null}}}},
{"data":{"name":"dummy"},"mark":{"type":"point","opacity":0},"encoding":{"y":{"field":"y","type":"quantitative","axis":{"orient":"left","values":[3.667,3.833,4.167,4.333,4.667,4.833,5.167,5.333],"labels":false,"grid":false,"tickSize":3,"tickColor":"#999","title":null}},"x":{"field":"x","type":"quantitative","axis":null}}},
{"data":{"name":"bnd"},"mark":{"type":"line","strokeWidth":0},"encoding":{"x":{"field":"x","type":"quantitative","axis":null},"y":{"field":"y","type":"quantitative","axis":null},"order":{"value":null},"fill":{"datum":1,"type":"ordinal","scale":{"domain":[0,1,2,3,4,5,6,7,8,9,10]},"legend":null}}},
{"data":{"name":"ca"},"mark":{"type":"line","strokeWidth":0},"encoding":{"x":{"field":"x","type":"quantitative","axis":null},"y":{"field":"y","type":"quantitative","axis":null},"order":{"value":null},"detail":{"field":"r"},"fill":{"field":"l","type":"ordinal","scale":{"domain":[0,1,2,3,4,5,6,7,8,9,10]},"legend":null}}},
{"data":{"name":"mask"},"mark":{"type":"line","strokeWidth":0,"fill":"#fff"},"encoding":{"x":{"field":"x","type":"quantitative","axis":null},"y":{"field":"y","type":"quantitative","axis":null},"order":{"value":null},"detail":{"field":"r"}}},
{"data":{"name":"bnd"},"mark":{"type":"line","stroke":"#4a76b5","strokeWidth":2},"encoding":{"x":{"field":"x","type":"quantitative","axis":null},"y":{"field":"y","type":"quantitative","axis":null},"order":{"value":null}}}
]},
{"width":237,"height":154.3,"resolve":{"axis":{"x":"independent","y":"independent"}},"layer":[
{"data":{"name":"dummy"},"mark":{"type":"point","opacity":0},"encoding":{"x":{"field":"x","type":"quantitative","scale":{"domain":[36.5,39.955],"nice":false,"zero":false},"axis":{"orient":"bottom","values":[36.5,37,37.5,38,38.5,39,39.5],"format":".1f","grid":true,"tickSize":6,"title":"(b)","titleX":120,"titleY":36,"titleFont":"Liberation Serif","titleFontWeight":"bold","titleFontSize":22,"titleColor":"#000","titleBaseline":"middle","labelPadding":7}},"y":{"field":"y","type":"quantitative","scale":{"domain":[3.406,5.39],"nice":false,"zero":false},"axis":{"orient":"left","values":[3.5,4,4.5,5],"labels":false,"grid":true,"tickSize":8,"title":null}}}},
{"data":{"name":"dummy"},"mark":{"type":"point","opacity":0},"encoding":{"x":{"field":"x","type":"quantitative","axis":{"orient":"top","values":[36.5,37,37.5,38,38.5,39,39.5],"labels":false,"grid":false,"tickSize":8,"title":"tmn","titleX":236,"titleY":-14,"titleAlign":"right","titleBaseline":"alphabetic","titleFontSize":14.5}},"y":{"field":"y","type":"quantitative","axis":{"orient":"right","values":[3.5,4,4.5,5],"labels":false,"grid":false,"tickSize":8,"title":null}}}},
{"data":{"name":"dummy"},"mark":{"type":"point","opacity":0},"encoding":{"x":{"field":"x","type":"quantitative","axis":{"orient":"top","values":[36.667,36.833,37.167,37.333,37.667,37.833,38.167,38.333,38.667,38.833,39.167,39.333,39.667,39.833],"labels":false,"grid":false,"tickSize":3,"tickColor":"#999","title":"spg","titleX":17,"titleY":-14,"titleAlign":"left","titleBaseline":"alphabetic","titleFontSize":14.5}},"y":{"field":"y","type":"quantitative","axis":{"orient":"right","values":[3.667,3.833,4.167,4.333,4.667,4.833,5.167,5.333],"labels":false,"grid":false,"tickSize":3,"tickColor":"#999","title":null}}}},
{"data":{"name":"dummy"},"mark":{"type":"point","opacity":0},"encoding":{"y":{"field":"y","type":"quantitative","axis":{"orient":"left","values":[3.667,3.833,4.167,4.333,4.667,4.833,5.167,5.333],"labels":false,"grid":false,"tickSize":3,"tickColor":"#999","title":null}},"x":{"field":"x","type":"quantitative","axis":null}}},
{"data":{"name":"bnd"},"mark":{"type":"line","strokeWidth":0},"encoding":{"x":{"field":"x","type":"quantitative","axis":null},"y":{"field":"y","type":"quantitative","axis":null},"order":{"value":null},"fill":{"datum":0,"type":"ordinal","scale":{"domain":[0,1,2,3,4,5,6,7,8,9,10]},"legend":null}}},
{"data":{"name":"cb"},"mark":{"type":"line","strokeWidth":0},"encoding":{"x":{"field":"x","type":"quantitative","axis":null},"y":{"field":"y","type":"quantitative","axis":null},"order":{"value":null},"detail":{"field":"r"},"fill":{"field":"l","type":"ordinal","scale":{"domain":[0,1,2,3,4,5,6,7,8,9,10]},"legend":null}}},
{"data":{"name":"mask"},"mark":{"type":"line","strokeWidth":0,"fill":"#fff"},"encoding":{"x":{"field":"x","type":"quantitative","axis":null},"y":{"field":"y","type":"quantitative","axis":null},"order":{"value":null},"detail":{"field":"r"}}},
{"data":{"name":"bnd"},"mark":{"type":"line","stroke":"#4a76b5","strokeWidth":2},"encoding":{"x":{"field":"x","type":"quantitative","axis":null},"y":{"field":"y","type":"quantitative","axis":null},"order":{"value":null}}}
]},
{"width":237,"height":154.3,"resolve":{"axis":{"x":"independent","y":"independent"}},"layer":[
{"data":{"name":"dummy"},"mark":{"type":"point","opacity":0},"encoding":{"x":{"field":"x","type":"quantitative","scale":{"domain":[36.5,39.955],"nice":false,"zero":false},"axis":{"orient":"bottom","values":[36.5,37,37.5,38,38.5,39,39.5],"format":".1f","grid":true,"tickSize":6,"title":"(c)","titleX":123,"titleY":36,"titleFont":"Liberation Serif","titleFontWeight":"bold","titleFontSize":22,"titleColor":"#000","titleBaseline":"middle","labelPadding":7}},"y":{"field":"y","type":"quantitative","scale":{"domain":[3.406,5.39],"nice":false,"zero":false},"axis":{"orient":"left","values":[3.5,4,4.5,5],"labels":false,"grid":true,"tickSize":8,"title":null}}}},
{"data":{"name":"dummy"},"mark":{"type":"point","opacity":0},"encoding":{"x":{"field":"x","type":"quantitative","axis":{"orient":"top","values":[36.5,37,37.5,38,38.5,39,39.5],"labels":false,"grid":false,"tickSize":8,"title":"tmn","titleX":236,"titleY":-14,"titleAlign":"right","titleBaseline":"alphabetic","titleFontSize":14.5}},"y":{"field":"y","type":"quantitative","axis":{"orient":"right","values":[3.5,4,4.5,5],"labels":false,"grid":false,"tickSize":8,"title":null}}}},
{"data":{"name":"dummy"},"mark":{"type":"point","opacity":0},"encoding":{"x":{"field":"x","type":"quantitative","axis":{"orient":"top","values":[36.667,36.833,37.167,37.333,37.667,37.833,38.167,38.333,38.667,38.833,39.167,39.333,39.667,39.833],"labels":false,"grid":false,"tickSize":3,"tickColor":"#999","title":"aut","titleX":15,"titleY":-14,"titleAlign":"left","titleBaseline":"alphabetic","titleFontSize":14.5}},"y":{"field":"y","type":"quantitative","axis":{"orient":"right","values":[3.667,3.833,4.167,4.333,4.667,4.833,5.167,5.333],"labels":false,"grid":false,"tickSize":3,"tickColor":"#999","title":null}}}},
{"data":{"name":"dummy"},"mark":{"type":"point","opacity":0},"encoding":{"y":{"field":"y","type":"quantitative","axis":{"orient":"left","values":[3.667,3.833,4.167,4.333,4.667,4.833,5.167,5.333],"labels":false,"grid":false,"tickSize":3,"tickColor":"#999","title":null}},"x":{"field":"x","type":"quantitative","axis":null}}},
{"data":{"name":"bnd"},"mark":{"type":"line","strokeWidth":0},"encoding":{"x":{"field":"x","type":"quantitative","axis":null},"y":{"field":"y","type":"quantitative","axis":null},"order":{"value":null},"fill":{"datum":8,"type":"ordinal","scale":{"domain":[0,1,2,3,4,5,6,7,8,9,10]},"legend":null}}},
{"data":{"name":"cc"},"mark":{"type":"line","strokeWidth":0},"encoding":{"x":{"field":"x","type":"quantitative","axis":null},"y":{"field":"y","type":"quantitative","axis":null},"order":{"value":null},"detail":{"field":"r"},"fill":{"field":"l","type":"ordinal","scale":{"domain":[0,1,2,3,4,5,6,7,8,9,10]},"legend":null}}},
{"data":{"name":"mask"},"mark":{"type":"line","strokeWidth":0,"fill":"#fff"},"encoding":{"x":{"field":"x","type":"quantitative","axis":null},"y":{"field":"y","type":"quantitative","axis":null},"order":{"value":null},"detail":{"field":"r"}}},
{"data":{"name":"bnd"},"mark":{"type":"line","stroke":"#4a76b5","strokeWidth":2},"encoding":{"x":{"field":"x","type":"quantitative","axis":null},"y":{"field":"y","type":"quantitative","axis":null},"order":{"value":null}}}
]}
]},
{"width":5,"height":154.3,"data":{"name":"cbar6"},"mark":{"type":"rect"},"encoding":{"y":{"field":"lo","type":"quantitative","scale":{"domain":[0.03973,0.0602],"nice":false,"zero":false},"axis":{"orient":"right","values":[0.04,0.044,0.048,0.052,0.056,0.06],"format":".3f","title":null,"ticks":false,"grid":false,"labelPadding":3,"labelFontSize":11}},"y2":{"field":"hi"},"fill":{"field":"l","type":"ordinal","scale":{"domain":[0,1,2,3,4,5,6,7,8,9,10]},"legend":null}}}
]},
{"width":807,"height":154.7,"view":{"stroke":"#ddd","strokeWidth":2},"resolve":{"axis":{"x":"independent"}},"title":{"text":"Near-surface temperature minimum , smr slope: 0.056, spg : 0.042, aut : 0.050","font":"Liberation Sans","fontSize":14.9,"fontWeight":"normal","color":"#444","dx":8,"offset":0},
"encoding":{"y":{"field":"v","type":"quantitative","stack":null,"scale":{"domain":[-3,3],"nice":false},"axis":{"values":[-3,-2,-1,0,1,2,3],"gridColor":"#c5d0ea","gridDash":[1,2],"gridWidth":1,"ticks":false,"labelPadding":5,"labelFontSize":11,"title":"tmn anomaly","titleFontSize":16,"titleX":-31,"titleY":77,"titleBaseline":"middle"}}},
"layer":[
{"data":{"name":"tmn"},"transform":[{"filter":"datum.s==='smr'"}],"mark":{"type":"bar","size":4.3,"xOffset":3},"encoding":{"x":{"field":"year","type":"quantitative","scale":{"domain":[1981.05,2021.95],"nice":false,"zero":false},"axis":{"orient":"bottom","values":[1985,1990,1995,2000,2005,2010,2015,2020],"format":"d","gridColor":"#c5d0ea","gridDash":[1,2],"gridWidth":1,"ticks":false,"labelPadding":4,"title":"(d)","titleX":405,"titleY":33,"titleFont":"Liberation Serif","titleFontWeight":"bold","titleFontSize":22,"titleColor":"#000","titleBaseline":"middle"}},"color":{"field":"s","type":"nominal","scale":{"domain":["smr","spg","aut"],"range":["#ff7f7f","#008000","#0000ff"]},"legend":{"orient":"none","legendX":299.4,"legendY":7.4,"direction":"horizontal","columns":3,"title":null,"symbolType":"M-1,-0.38H1V0.38H-1Z","symbolSize":576,"symbolStrokeWidth":0,"labelOffset":10,"labelFontSize":10.5,"labelColor":"#555","columnPadding":24,"strokeColor":"#333","padding":3}}}},
{"data":{"name":"tmn"},"transform":[{"filter":"datum.s==='spg'"}],"mark":{"type":"bar","size":4,"xOffset":6.3},"encoding":{"x":{"field":"year","type":"quantitative","axis":null},"color":{"field":"s","type":"nominal"}}},
{"data":{"name":"tmn"},"transform":[{"filter":"datum.s==='aut'"}],"mark":{"type":"bar","size":4,"xOffset":9.6},"encoding":{"x":{"field":"year","type":"quantitative","axis":null},"color":{"field":"s","type":"nominal"}}},
{"data":{"name":"note1"},"mark":{"type":"text","align":"left","baseline":"middle","fontSize":12,"color":"#444"},"encoding":{"x":{"field":"year","type":"quantitative","axis":null},"text":{"field":"t"}}}
]}
]},
{"spacing":14,"hconcat":[
{"bounds":"flush","spacing":47.5,"hconcat":[
{"width":237,"height":154.4,"resolve":{"axis":{"x":"independent","y":"independent"}},"layer":[
{"data":{"name":"dummy"},"mark":{"type":"point","opacity":0},"encoding":{"x":{"field":"x","type":"quantitative","scale":{"domain":[36.5,39.955],"nice":false,"zero":false},"axis":{"orient":"bottom","values":[36.5,37,37.5,38,38.5,39,39.5],"format":".1f","grid":true,"tickSize":6,"title":"(e)","titleX":96,"titleY":35,"titleFont":"Liberation Serif","titleFontWeight":"bold","titleFontSize":22,"titleColor":"#000","titleBaseline":"middle","labelPadding":7}},"y":{"field":"y","type":"quantitative","scale":{"domain":[3.406,5.39],"nice":false,"zero":false},"axis":{"orient":"left","values":[3.5,4,4.5,5],"format":".1f","grid":true,"ticks":false,"labelPadding":9,"title":"Latitude (deg)","titleFontSize":17,"titleX":-42,"titleY":77,"titleBaseline":"middle"}}}},
{"data":{"name":"dummy"},"mark":{"type":"point","opacity":0},"encoding":{"x":{"field":"x","type":"quantitative","axis":{"orient":"top","values":[36.5,37,37.5,38,38.5,39,39.5],"labels":false,"grid":false,"tickSize":8,"title":"tmx","titleX":236,"titleY":-14,"titleAlign":"right","titleBaseline":"alphabetic","titleFontSize":14.5}},"y":{"field":"y","type":"quantitative","axis":{"orient":"right","values":[3.5,4,4.5,5],"labels":false,"grid":false,"tickSize":8,"title":null}}}},
{"data":{"name":"dummy"},"mark":{"type":"point","opacity":0},"encoding":{"x":{"field":"x","type":"quantitative","axis":{"orient":"top","values":[36.667,36.833,37.167,37.333,37.667,37.833,38.167,38.333,38.667,38.833,39.167,39.333,39.667,39.833],"labels":false,"grid":false,"tickSize":3,"tickColor":"#999","title":"smr","titleX":17,"titleY":-14,"titleAlign":"left","titleBaseline":"alphabetic","titleFontSize":14.5}},"y":{"field":"y","type":"quantitative","axis":{"orient":"right","values":[3.667,3.833,4.167,4.333,4.667,4.833,5.167,5.333],"labels":false,"grid":false,"tickSize":3,"tickColor":"#999","title":null}}}},
{"data":{"name":"dummy"},"mark":{"type":"point","opacity":0},"encoding":{"y":{"field":"y","type":"quantitative","axis":{"orient":"left","values":[3.667,3.833,4.167,4.333,4.667,4.833,5.167,5.333],"labels":false,"grid":false,"tickSize":3,"tickColor":"#999","title":null}},"x":{"field":"x","type":"quantitative","axis":null}}},
{"data":{"name":"bnd"},"mark":{"type":"line","strokeWidth":0},"encoding":{"x":{"field":"x","type":"quantitative","axis":null},"y":{"field":"y","type":"quantitative","axis":null},"order":{"value":null},"fill":{"datum":10,"type":"ordinal","scale":{"domain":[0,1,2,3,4,5,6,7,8,9,10]},"legend":null}}},
{"data":{"name":"ce"},"mark":{"type":"line","strokeWidth":0},"encoding":{"x":{"field":"x","type":"quantitative","axis":null},"y":{"field":"y","type":"quantitative","axis":null},"order":{"value":null},"detail":{"field":"r"},"fill":{"field":"l","type":"ordinal","scale":{"domain":[0,1,2,3,4,5,6,7,8,9,10]},"legend":null}}},
{"data":{"name":"mask"},"mark":{"type":"line","strokeWidth":0,"fill":"#fff"},"encoding":{"x":{"field":"x","type":"quantitative","axis":null},"y":{"field":"y","type":"quantitative","axis":null},"order":{"value":null},"detail":{"field":"r"}}},
{"data":{"name":"bnd"},"mark":{"type":"line","stroke":"#4a76b5","strokeWidth":2},"encoding":{"x":{"field":"x","type":"quantitative","axis":null},"y":{"field":"y","type":"quantitative","axis":null},"order":{"value":null}}}
]},
{"width":237,"height":154.4,"resolve":{"axis":{"x":"independent","y":"independent"}},"layer":[
{"data":{"name":"dummy"},"mark":{"type":"point","opacity":0},"encoding":{"x":{"field":"x","type":"quantitative","scale":{"domain":[36.5,39.955],"nice":false,"zero":false},"axis":{"orient":"bottom","values":[36.5,37,37.5,38,38.5,39,39.5],"format":".1f","grid":true,"tickSize":6,"title":"(f)","titleX":120,"titleY":35,"titleFont":"Liberation Serif","titleFontWeight":"bold","titleFontSize":22,"titleColor":"#000","titleBaseline":"middle","labelPadding":7}},"y":{"field":"y","type":"quantitative","scale":{"domain":[3.406,5.39],"nice":false,"zero":false},"axis":{"orient":"left","values":[3.5,4,4.5,5],"labels":false,"grid":true,"tickSize":8,"title":null}}}},
{"data":{"name":"dummy"},"mark":{"type":"point","opacity":0},"encoding":{"x":{"field":"x","type":"quantitative","axis":{"orient":"top","values":[36.5,37,37.5,38,38.5,39,39.5],"labels":false,"grid":false,"tickSize":8,"title":"tmx","titleX":236,"titleY":-14,"titleAlign":"right","titleBaseline":"alphabetic","titleFontSize":14.5}},"y":{"field":"y","type":"quantitative","axis":{"orient":"right","values":[3.5,4,4.5,5],"labels":false,"grid":false,"tickSize":8,"title":null}}}},
{"data":{"name":"dummy"},"mark":{"type":"point","opacity":0},"encoding":{"x":{"field":"x","type":"quantitative","axis":{"orient":"top","values":[36.667,36.833,37.167,37.333,37.667,37.833,38.167,38.333,38.667,38.833,39.167,39.333,39.667,39.833],"labels":false,"grid":false,"tickSize":3,"tickColor":"#999","title":"spg","titleX":13,"titleY":-14,"titleAlign":"left","titleBaseline":"alphabetic","titleFontSize":14.5}},"y":{"field":"y","type":"quantitative","axis":{"orient":"right","values":[3.667,3.833,4.167,4.333,4.667,4.833,5.167,5.333],"labels":false,"grid":false,"tickSize":3,"tickColor":"#999","title":null}}}},
{"data":{"name":"dummy"},"mark":{"type":"point","opacity":0},"encoding":{"y":{"field":"y","type":"quantitative","axis":{"orient":"left","values":[3.667,3.833,4.167,4.333,4.667,4.833,5.167,5.333],"labels":false,"grid":false,"tickSize":3,"tickColor":"#999","title":null}},"x":{"field":"x","type":"quantitative","axis":null}}},
{"data":{"name":"bnd"},"mark":{"type":"line","strokeWidth":0},"encoding":{"x":{"field":"x","type":"quantitative","axis":null},"y":{"field":"y","type":"quantitative","axis":null},"order":{"value":null},"fill":{"datum":10,"type":"ordinal","scale":{"domain":[0,1,2,3,4,5,6,7,8,9,10]},"legend":null}}},
{"data":{"name":"cf"},"mark":{"type":"line","strokeWidth":0},"encoding":{"x":{"field":"x","type":"quantitative","axis":null},"y":{"field":"y","type":"quantitative","axis":null},"order":{"value":null},"detail":{"field":"r"},"fill":{"field":"l","type":"ordinal","scale":{"domain":[0,1,2,3,4,5,6,7,8,9,10]},"legend":null}}},
{"data":{"name":"mask"},"mark":{"type":"line","strokeWidth":0,"fill":"#fff"},"encoding":{"x":{"field":"x","type":"quantitative","axis":null},"y":{"field":"y","type":"quantitative","axis":null},"order":{"value":null},"detail":{"field":"r"}}},
{"data":{"name":"bnd"},"mark":{"type":"line","stroke":"#4a76b5","strokeWidth":2},"encoding":{"x":{"field":"x","type":"quantitative","axis":null},"y":{"field":"y","type":"quantitative","axis":null},"order":{"value":null}}}
]},
{"width":237,"height":154.4,"resolve":{"axis":{"x":"independent","y":"independent"}},"layer":[
{"data":{"name":"dummy"},"mark":{"type":"point","opacity":0},"encoding":{"x":{"field":"x","type":"quantitative","scale":{"domain":[36.5,39.955],"nice":false,"zero":false},"axis":{"orient":"bottom","values":[36.5,37,37.5,38,38.5,39,39.5],"format":".1f","grid":true,"tickSize":6,"title":"(g)","titleX":123,"titleY":35,"titleFont":"Liberation Serif","titleFontWeight":"bold","titleFontSize":22,"titleColor":"#000","titleBaseline":"middle","labelPadding":7}},"y":{"field":"y","type":"quantitative","scale":{"domain":[3.406,5.39],"nice":false,"zero":false},"axis":{"orient":"left","values":[3.5,4,4.5,5],"labels":false,"grid":true,"tickSize":8,"title":null}}}},
{"data":{"name":"dummy"},"mark":{"type":"point","opacity":0},"encoding":{"x":{"field":"x","type":"quantitative","axis":{"orient":"top","values":[36.5,37,37.5,38,38.5,39,39.5],"labels":false,"grid":false,"tickSize":8,"title":"tmx","titleX":236,"titleY":-14,"titleAlign":"right","titleBaseline":"alphabetic","titleFontSize":14.5}},"y":{"field":"y","type":"quantitative","axis":{"orient":"right","values":[3.5,4,4.5,5],"labels":false,"grid":false,"tickSize":8,"title":null}}}},
{"data":{"name":"dummy"},"mark":{"type":"point","opacity":0},"encoding":{"x":{"field":"x","type":"quantitative","axis":{"orient":"top","values":[36.667,36.833,37.167,37.333,37.667,37.833,38.167,38.333,38.667,38.833,39.167,39.333,39.667,39.833],"labels":false,"grid":false,"tickSize":3,"tickColor":"#999","title":"aut","titleX":17,"titleY":-14,"titleAlign":"left","titleBaseline":"alphabetic","titleFontSize":14.5}},"y":{"field":"y","type":"quantitative","axis":{"orient":"right","values":[3.667,3.833,4.167,4.333,4.667,4.833,5.167,5.333],"labels":false,"grid":false,"tickSize":3,"tickColor":"#999","title":null}}}},
{"data":{"name":"dummy"},"mark":{"type":"point","opacity":0},"encoding":{"y":{"field":"y","type":"quantitative","axis":{"orient":"left","values":[3.667,3.833,4.167,4.333,4.667,4.833,5.167,5.333],"labels":false,"grid":false,"tickSize":3,"tickColor":"#999","title":null}},"x":{"field":"x","type":"quantitative","axis":null}}},
{"data":{"name":"bnd"},"mark":{"type":"line","strokeWidth":0},"encoding":{"x":{"field":"x","type":"quantitative","axis":null},"y":{"field":"y","type":"quantitative","axis":null},"order":{"value":null},"fill":{"datum":10,"type":"ordinal","scale":{"domain":[0,1,2,3,4,5,6,7,8,9,10]},"legend":null}}},
{"data":{"name":"cg"},"mark":{"type":"line","strokeWidth":0},"encoding":{"x":{"field":"x","type":"quantitative","axis":null},"y":{"field":"y","type":"quantitative","axis":null},"order":{"value":null},"detail":{"field":"r"},"fill":{"field":"l","type":"ordinal","scale":{"domain":[0,1,2,3,4,5,6,7,8,9,10]},"legend":null}}},
{"data":{"name":"mask"},"mark":{"type":"line","strokeWidth":0,"fill":"#fff"},"encoding":{"x":{"field":"x","type":"quantitative","axis":null},"y":{"field":"y","type":"quantitative","axis":null},"order":{"value":null},"detail":{"field":"r"}}},
{"data":{"name":"bnd"},"mark":{"type":"line","stroke":"#4a76b5","strokeWidth":2},"encoding":{"x":{"field":"x","type":"quantitative","axis":null},"y":{"field":"y","type":"quantitative","axis":null},"order":{"value":null}}}
]}
]},
{"width":5,"height":154.4,"data":{"name":"cbar5"},"mark":{"type":"rect"},"encoding":{"y":{"field":"lo","type":"quantitative","scale":{"domain":[0.03987,0.0501],"nice":false,"zero":false},"axis":{"orient":"right","values":[0.04,0.042,0.044,0.046,0.048,0.05],"format":".3f","title":null,"ticks":false,"grid":false,"labelPadding":3,"labelFontSize":11}},"y2":{"field":"hi"},"fill":{"field":"l","type":"ordinal","scale":{"domain":[0,1,2,3,4,5,6,7,8,9,10]},"legend":null}}}
]}
]},
{"width":807,"height":154,"view":{"stroke":"#ddd","strokeWidth":2},"resolve":{"axis":{"x":"independent"}},"title":{"text":".., Near-surface temperature maximum , smr slope: 0.051, spg : 0.051, aut : 0.043","font":"Liberation Sans","fontSize":14.9,"fontWeight":"normal","color":"#444","dx":0,"offset":0},
"encoding":{"y":{"field":"v","type":"quantitative","stack":null,"scale":{"domain":[-3,3],"nice":false},"axis":{"values":[-3,-2,-1,0,1,2,3],"gridColor":"#c5d0ea","gridDash":[1,2],"gridWidth":1,"ticks":false,"labelPadding":5,"labelFontSize":11,"title":"tmx anomaly","titleFontSize":16,"titleX":-31,"titleY":77,"titleBaseline":"middle"}}},
"layer":[
{"data":{"name":"tmx"},"transform":[{"filter":"datum.s==='smr'"}],"mark":{"type":"bar","size":4.3,"xOffset":3},"encoding":{"x":{"field":"year","type":"quantitative","scale":{"domain":[1981.05,2021.95],"nice":false,"zero":false},"axis":{"orient":"bottom","values":[1985,1990,1995,2000,2005,2010,2015,2020],"format":"d","gridColor":"#c5d0ea","gridDash":[1,2],"gridWidth":1,"ticks":false,"labelPadding":4,"title":"(h)","titleX":405,"titleY":49,"titleFont":"Liberation Serif","titleFontWeight":"bold","titleFontSize":21,"titleColor":"#000","titleBaseline":"middle"}},"color":{"field":"s","type":"nominal","scale":{"domain":["smr","spg","aut"],"range":["#ff7f7f","#008000","#0000ff"]},"legend":{"orient":"none","legendX":296.7,"legendY":5.3,"direction":"horizontal","columns":3,"title":null,"symbolType":"M-1,-0.38H1V0.38H-1Z","symbolSize":576,"symbolStrokeWidth":0,"labelOffset":10,"labelFontSize":10.5,"labelColor":"#555","columnPadding":24,"strokeColor":"#333","padding":5}}}},
{"data":{"name":"tmx"},"transform":[{"filter":"datum.s==='spg'"}],"mark":{"type":"bar","size":4,"xOffset":6.3},"encoding":{"x":{"field":"year","type":"quantitative","axis":{"orient":"bottom","labels":false,"ticks":false,"grid":false,"title":"Years","titleX":406,"titleY":26,"titleFontSize":18,"titleBaseline":"middle"}},"color":{"field":"s","type":"nominal"}}},
{"data":{"name":"tmx"},"transform":[{"filter":"datum.s==='aut'"}],"mark":{"type":"bar","size":4,"xOffset":9.6},"encoding":{"x":{"field":"year","type":"quantitative","axis":null},"color":{"field":"s","type":"nominal"}}},
{"data":{"name":"note2"},"mark":{"type":"text","align":"left","baseline":"middle","fontSize":12,"color":"#444"},"encoding":{"x":{"field":"year","type":"quantitative","axis":null},"text":{"field":"t"}}}
]}
]}
